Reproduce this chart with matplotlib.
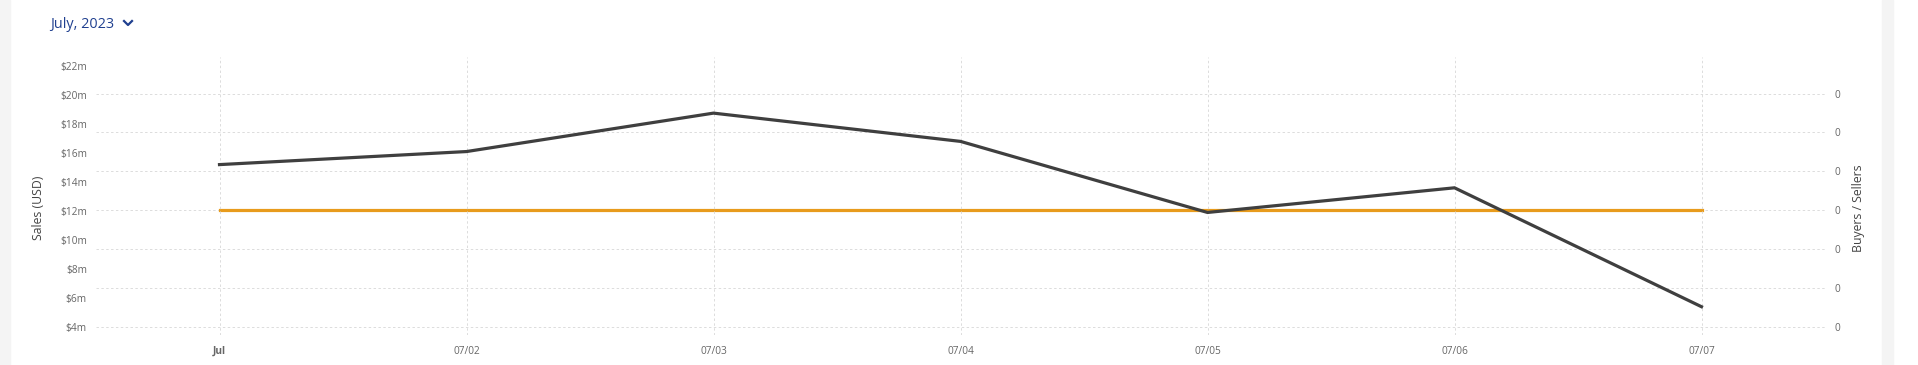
import matplotlib
matplotlib.use("Agg")
import matplotlib.pyplot as plt
from matplotlib.lines import Line2D
from matplotlib.patches import Rectangle
from matplotlib.ticker import FixedLocator, FuncFormatter

# data
days = ["Jul", "07/02", "07/03", "07/04", "07/05", "07/06", "07/07"]
sales_musd = [15.2, 16.1, 18.75, 16.8, 11.9, 13.6, 5.4]
buyers_sellers = [0, 0, 0, 0, 0, 0, 0]
sales_ticks = [4, 6, 8, 10, 12, 14, 16, 18, 20, 22]
count_ticks = [-3, -2, -1, 0, 1, 2, 3]

plt.rcParams["font.family"] = ["Open Sans", "DejaVu Sans"]

W, H = 1918, 365
fig = plt.figure(figsize=(W / 100, H / 100), dpi=100)
fig.patch.set_facecolor("white")

# card shadow strips
fig.patches.append(Rectangle((0, 0), 10 / W, 1, transform=fig.transFigure, color="#f4f4f4", zorder=0))
fig.patches.append(Rectangle((1882 / W, 0), 11 / W, 1, transform=fig.transFigure, color="#f4f4f4", zorder=0))

ax = fig.add_axes([96 / W, 1 - 335 / H, (1825 - 96) / W, (335 - 57) / H])
ax2 = ax.twinx()

x = list(range(len(days)))
ax.plot(x, sales_musd, color="#3f3f3f", lw=2.3, solid_joinstyle="miter", zorder=3)
ax2.plot(x, buyers_sellers, color="#e89b1c", lw=2.3, zorder=3)

ax.set_xlim(-0.5, 6.5)
ax.set_ylim(3.45, 22.62)
ax2.set_ylim(-3.21, 3.94)

ax.yaxis.set_major_locator(FixedLocator(sales_ticks))
ax.yaxis.set_major_formatter(FuncFormatter(lambda v, p: f"${v:.0f}m"))
ax2.yaxis.set_major_locator(FixedLocator(count_ticks))
ax2.yaxis.set_major_formatter(FuncFormatter(lambda v, p: "0"))

ax.set_xticks(x)
ax.set_xticklabels(days)
for lab in ax.get_xticklabels():
    if lab.get_text() == "Jul":
        lab.set_fontweight("bold")
        lab.set_color("#444444")

for a in (ax, ax2):
    for s in a.spines.values():
        s.set_visible(False)
    a.tick_params(length=0, labelsize=7.3, labelcolor="#666666")
ax.tick_params(axis="y", pad=6.5)
ax.tick_params(axis="x", pad=8)
ax2.tick_params(axis="y", pad=7)

grid_kw = dict(color="#dcdcdc", lw=0.7, ls=(0, (2.5, 2.5)))
ax.grid(axis="x", **grid_kw)
ax2.grid(axis="y", **grid_kw)
ax.set_axisbelow(True)
ax2.set_axisbelow(True)
ax.set_zorder(ax2.get_zorder() + 1)
ax.patch.set_visible(False)

ax.set_ylabel("Sales (USD)", fontsize=8.8, color="#444444")
ax2.set_ylabel("Buyers / Sellers", fontsize=8.8, color="#444444")
ax.yaxis.set_label_coords(-0.0295, 0.457)
ax2.yaxis.set_label_coords(1.0155, 0.457)

fig.text(50 / W, 1 - 24 / H, "July, 2023", fontsize=10.4, fontweight="medium",
         color="#1f3f8f", va="center", ha="left")
fig.add_artist(Line2D([124 / W, 128 / W, 132 / W], [1 - 21 / H, 1 - 25 / H, 1 - 21 / H],
                      transform=fig.transFigure, color="#1f3f8f", lw=1.6))

fig.savefig("out.png", dpi=100, facecolor="white")
